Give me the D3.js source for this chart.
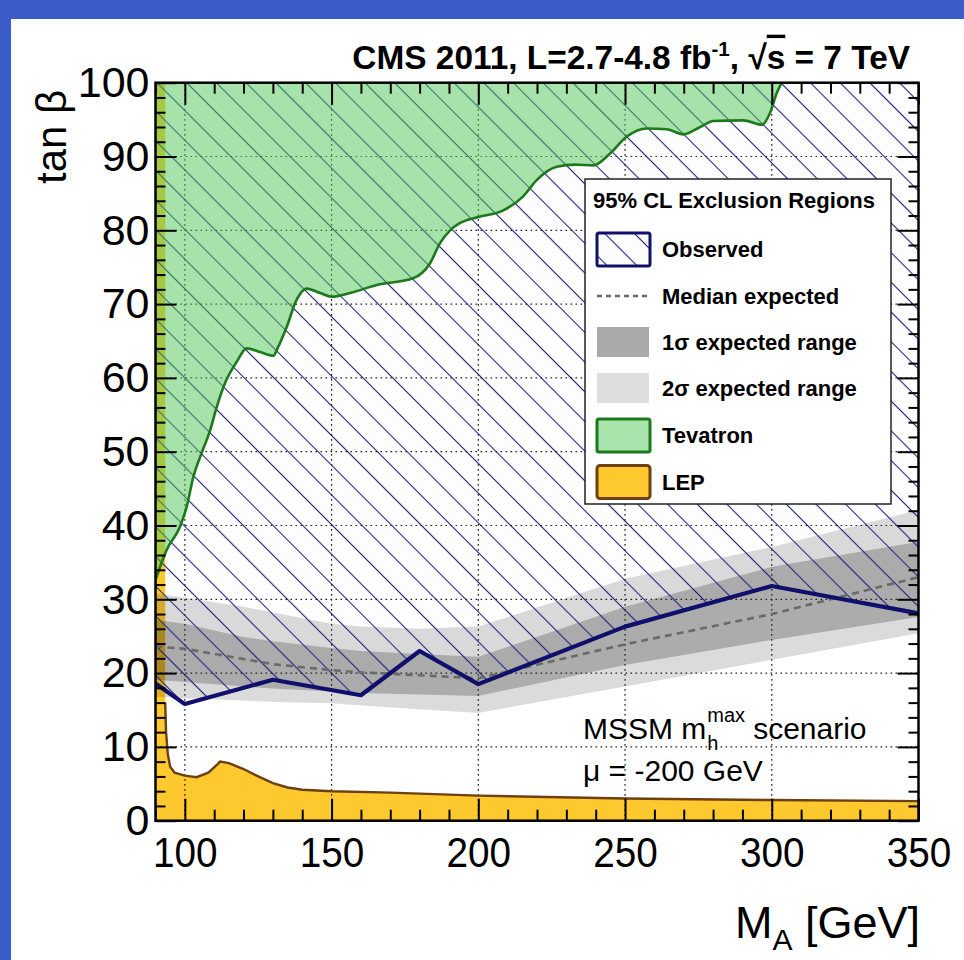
<!DOCTYPE html>
<html>
<head>
<meta charset="utf-8">
<script src="https://cdn.jsdelivr.net/npm/d3@7"></script>
<style>
  body { margin: 0; background: #fff; }
  svg { display: block; }
  text { font-family: "Liberation Sans", Arial, Helvetica, sans-serif; fill: #000; }
</style>
</head>
<body>
<svg id="chart" width="964" height="960"></svg>
<script>
// ---- axis ticks ----
const xMajor = [100, 150, 200, 250, 300, 350];
const xMinor = [90, 110, 120, 130, 140, 160, 170, 180, 190, 210, 220, 230, 240, 260, 270, 280, 290, 310, 320, 330, 340];
const yMajor = [0, 10, 20, 30, 40, 50, 60, 70, 80, 90, 100];
const yMinor = [2, 4, 6, 8, 12, 14, 16, 18, 22, 24, 26, 28, 32, 34, 36, 38, 42, 44, 46, 48,
                52, 54, 56, 58, 62, 64, 66, 68, 72, 74, 76, 78, 82, 84, 86, 88, 92, 94, 96, 98];
const xGrid = [100, 150, 200, 250, 300];
const yGrid = [10, 20, 30, 40, 50, 60, 70, 80, 90];

// ---- observed 95% CL limit ----
const obsMass = [90, 100, 130, 160, 180, 200, 250, 300, 350];
const obsTanb = [18.6, 15.8, 19.1, 17.0, 23.0, 18.5, 26.3, 31.8, 28.1];

// ---- expected limit: median and 1/2 sigma bands ----
const expMass   = [90, 100, 120, 130, 150, 160, 180, 200, 250, 300, 350];
const expMedian = [23.6, 23.3, 21.9, 21.2, 20.4, 20.1, 19.7, 19.3, 23.9, 28.0, 33.0];
const exp1Lo    = [19.1, 18.8, 18.2, 17.9, 17.5, 17.3, 17.1, 16.9, 21.1, 24.5, 27.6];
const exp1Hi    = [27.2, 26.7, 24.9, 24.3, 23.4, 23.0, 22.6, 22.2, 29.0, 34.4, 37.8];
const exp2Lo    = [16.8, 16.6, 16.3, 16.1, 15.9, 15.6, 15.1, 14.6, 18.2, 21.8, 25.4];
const exp2Hi    = [30.8, 30.2, 29.0, 28.2, 26.7, 26.3, 26.0, 26.3, 32.8, 37.1, 42.1];

// ---- Tevatron exclusion boundary ----
const tevMass = [90, 93.8, 98.3, 100.6, 102.9, 105.7, 108.6, 110.9, 113.7, 117.7, 121.1, 125.6,
                 130.1, 131.8, 134.7, 138.1, 141.5, 146.1, 150, 156.3, 165.4, 177.8, 183.5, 187,
                 190.4, 193.8, 200, 208.5, 215.3, 219.9, 226.7, 233, 239.2, 244.9, 250.6, 257.4,
                 264.2, 269.9, 275.6, 280.1, 290.3, 296.6, 299.4, 301.7, 303.4];
const tevTanb = [32.6, 36.7, 39.8, 42.5, 46.6, 49.8, 52.9, 56.1, 59.3, 62.2, 64.0, 63.5,
                 63.0, 64.2, 66.9, 70.6, 72.1, 71.5, 71.0, 71.5, 72.6, 73.5, 75.5, 78.3,
                 80.0, 81.0, 81.8, 82.7, 84.6, 86.8, 88.6, 88.9, 88.8, 90.4, 92.7, 93.8,
                 93.7, 93.0, 94.0, 94.8, 94.9, 94.3, 95.9, 98.6, 100];

// ---- LEP exclusion boundary ----
const lepMass = [90, 93.3, 93.3, 93.6, 94.2, 95, 96.5, 100, 104, 108, 111, 112, 115, 120, 125,
                 130, 135, 140, 150, 170, 200, 250, 300, 350];
const lepTanb = [100, 100, 16, 12, 9, 7.3, 6.5, 6.1, 5.9, 6.5, 7.6, 8.0, 7.8, 7.0, 6.0,
                 5.1, 4.5, 4.2, 4.0, 3.8, 3.4, 3.0, 2.8, 2.65];

// ---- legend entries ----
const legendLabels = ["Observed", "Median expected", "1\u03C3 expected range", "2\u03C3 expected range", "Tevatron", "LEP"];

const W = 964, H = 960;
const svg = d3.select("#chart");

// slide background with blue edge
svg.append("rect").attr("width", W).attr("height", H).attr("fill", "#3b5dca");
svg.append("rect").attr("x", 11).attr("y", 19).attr("width", W - 11).attr("height", H - 19).attr("fill", "#fff");

const x = d3.scaleLinear().domain([90, 350]).range([155.5, 918.5]);
const y = d3.scaleLinear().domain([0, 100]).range([820.7, 82.7]);

const defs = svg.append("defs");
defs.append("clipPath").attr("id", "plotClip")
  .append("rect").attr("x", x(90)).attr("y", y(100))
  .attr("width", x(350) - x(90)).attr("height", y(0) - y(100));

// diagonal hatch for the observed exclusion
const hatch = defs.append("pattern").attr("id", "hatch")
  .attr("patternUnits", "userSpaceOnUse")
  .attr("width", 21).attr("height", 21)
  .attr("patternTransform", "rotate(-45)");
hatch.append("rect").attr("width", 21).attr("height", 21).attr("fill", "rgba(70,70,200,0.012)");
hatch.append("line").attr("x1", 10.5).attr("y1", 0).attr("x2", 10.5).attr("y2", 21)
  .attr("stroke", "#23237e").attr("stroke-width", 1.1);

const plot = svg.append("g").attr("clip-path", "url(#plotClip)");

const zip = (a, b) => a.map((v, i) => [v, b[i]]);

// LEP
const lepPts = zip(lepMass, lepTanb);
plot.append("path").datum(lepPts)
  .attr("d", d3.area().x(d => x(d[0])).y0(y(0)).y1(d => y(d[1])))
  .attr("fill", "#fec92f");

// expected bands
const band = (lo, hi) => d3.area().x((d, i) => x(expMass[i])).y0((d, i) => y(lo[i])).y1((d, i) => y(hi[i]));
plot.append("path").datum(expMass).attr("d", band(exp2Lo, exp2Hi)).attr("fill", "rgba(0,0,0,0.14)");
plot.append("path").datum(expMass).attr("d", band(exp1Lo, exp1Hi)).attr("fill", "rgba(0,0,0,0.21)");

// observed exclusion (hatched)
const obsPts = zip(obsMass, obsTanb);
plot.append("path").datum(obsPts)
  .attr("d", d3.area().x(d => x(d[0])).y0(y(100)).y1(d => y(d[1])))
  .attr("fill", "url(#hatch)");

// grid
const grid = plot.append("g").attr("stroke", "#222").attr("stroke-width", 1.2).attr("stroke-dasharray", "1.6,3.4");
grid.selectAll(".gx").data(xGrid).join("line")
  .attr("x1", d => x(d)).attr("x2", d => x(d)).attr("y1", y(0)).attr("y2", y(100));
grid.selectAll(".gy").data(yGrid).join("line")
  .attr("y1", d => y(d)).attr("y2", d => y(d)).attr("x1", x(90)).attr("x2", x(350));

// Tevatron
const tevPts = zip(tevMass, tevTanb);
plot.append("path").datum(tevPts)
  .attr("d", d3.area().x(d => x(d[0])).y0(y(100)).y1(d => y(d[1])).curve(d3.curveMonotoneX))
  .attr("fill", "rgb(80,200,86)").attr("fill-opacity", 0.5);

// median expected
plot.append("path").datum(zip(expMass, expMedian))
  .attr("d", d3.line().x(d => x(d[0])).y(d => y(d[1])))
  .attr("fill", "none").attr("stroke", "#6a6a6a").attr("stroke-width", 2.6).attr("stroke-dasharray", "7,5");

// observed limit line
plot.append("path").datum(obsPts)
  .attr("d", d3.line().x(d => x(d[0])).y(d => y(d[1])))
  .attr("fill", "none").attr("stroke", "#10106c").attr("stroke-width", 4.2).attr("stroke-linejoin", "round");

// Tevatron boundary
plot.append("path").datum(tevPts)
  .attr("d", d3.line().x(d => x(d[0])).y(d => y(d[1])).curve(d3.curveMonotoneX))
  .attr("fill", "none").attr("stroke", "#1c7a1c").attr("stroke-width", 2.6);

// LEP boundary (lower edge)
plot.append("path").datum(lepPts.slice(2))
  .attr("d", d3.line().x(d => x(d[0])).y(d => y(d[1])))
  .attr("fill", "none").attr("stroke", "#6e3f10").attr("stroke-width", 2.4);

// ---- axes ----
function styleAxis(g) {
  g.select(".domain").remove();
  g.selectAll(".tick line").attr("stroke", "#000").attr("stroke-width", 2);
}
svg.append("g").attr("transform", `translate(0,${y(0)})`)
  .call(d3.axisBottom(x).tickValues(xMajor).tickSizeInner(-22).tickSizeOuter(0).tickPadding(16))
  .call(styleAxis)
  .call(g => g.selectAll("text")
    .attr("font-size", 43).attr("font-family", "Liberation Sans, Arial, sans-serif").attr("fill", "#000")
    .attr("transform", "scale(0.9,1)"));
svg.append("g").attr("transform", `translate(0,${y(0)})`)
  .call(d3.axisBottom(x).tickValues(xMinor).tickSize(-11).tickFormat(""))
  .call(styleAxis);
svg.append("g").attr("transform", `translate(0,${y(100)})`)
  .call(d3.axisTop(x).tickValues(xMajor).tickSize(-22).tickFormat(""))
  .call(styleAxis);
svg.append("g").attr("transform", `translate(0,${y(100)})`)
  .call(d3.axisTop(x).tickValues(xMinor).tickSize(-11).tickFormat(""))
  .call(styleAxis);
svg.append("g").attr("transform", `translate(${x(90)},0)`)
  .call(d3.axisLeft(y).tickValues(yMajor).tickSizeInner(-21).tickSizeOuter(0).tickPadding(6))
  .call(styleAxis)
  .call(g => g.selectAll("text").attr("font-size", 43).attr("font-family", "Liberation Sans, Arial, sans-serif").attr("fill", "#000"));
svg.append("g").attr("transform", `translate(${x(90)},0)`)
  .call(d3.axisLeft(y).tickValues(yMinor).tickSize(-10).tickFormat(""))
  .call(styleAxis);
svg.append("g").attr("transform", `translate(${x(350)},0)`)
  .call(d3.axisRight(y).tickValues(yMajor).tickSize(-21).tickFormat(""))
  .call(styleAxis);
svg.append("g").attr("transform", `translate(${x(350)},0)`)
  .call(d3.axisRight(y).tickValues(yMinor).tickSize(-10).tickFormat(""))
  .call(styleAxis);

// frame
svg.append("rect").attr("x", x(90)).attr("y", y(100))
  .attr("width", x(350) - x(90)).attr("height", y(0) - y(100))
  .attr("fill", "none").attr("stroke", "#000").attr("stroke-width", 2.5);

// ---- legend ----
const lg = svg.append("g");
lg.append("rect").attr("x", 585).attr("y", 179).attr("width", 306).attr("height", 325)
  .attr("fill", "#fff").attr("stroke", "#222").attr("stroke-width", 1.5);
lg.append("text").attr("x", 593).attr("y", 208).attr("font-size", 22).attr("font-weight", "bold")
  .text("95% CL Exclusion Regions");

const rowY = [249, 296, 342, 388, 435, 481.5];
lg.selectAll(".lab").data(legendLabels).join("text")
  .attr("x", 662).attr("y", (d, i) => rowY[i] + 8)
  .attr("font-size", 22).attr("font-weight", "bold").text(d => d);

// symbols
lg.append("rect").attr("x", 597).attr("y", rowY[0] - 16).attr("width", 53).attr("height", 33)
  .attr("fill", "#fff").attr("stroke", "none");
lg.append("rect").attr("x", 597).attr("y", rowY[0] - 16).attr("width", 53).attr("height", 33)
  .attr("fill", "url(#hatch)").attr("stroke", "#10106c").attr("stroke-width", 3).attr("rx", 2);
lg.append("line").attr("x1", 597).attr("x2", 650).attr("y1", rowY[1]).attr("y2", rowY[1])
  .attr("stroke", "#6a6a6a").attr("stroke-width", 2.4).attr("stroke-dasharray", "5,4");
lg.append("rect").attr("x", 597).attr("y", rowY[2] - 15).attr("width", 52).attr("height", 30)
  .attr("fill", "#a9a9a9");
lg.append("rect").attr("x", 597).attr("y", rowY[3] - 15).attr("width", 52).attr("height", 30)
  .attr("fill", "#dddddd");
lg.append("rect").attr("x", 597).attr("y", rowY[4] - 16).attr("width", 53).attr("height", 33)
  .attr("fill", "#a8e4ab").attr("stroke", "#1c7a1c").attr("stroke-width", 3).attr("rx", 2);
lg.append("rect").attr("x", 597).attr("y", rowY[5] - 16).attr("width", 53).attr("height", 33)
  .attr("fill", "#fec92f").attr("stroke", "#6e3f10").attr("stroke-width", 3).attr("rx", 3);

// ---- titles ----
const title = svg.append("text").attr("x", 910).attr("y", 69).attr("text-anchor", "end")
  .attr("font-size", 34).attr("font-weight", "bold");
title.append("tspan").text("CMS 2011, L=2.7-4.8 fb");
title.append("tspan").attr("font-size", 21).attr("dy", -13).text("-1");
title.append("tspan").attr("dy", 13).text(", \u221A");
title.append("tspan").style("text-decoration", "overline").text("s");
title.append("tspan").text(" = 7 TeV");
{
  const w = title.node().getComputedTextLength();
  const s = 558 / w;
  title.attr("transform", `translate(910,0) scale(${s},1) translate(-910,0)`);
}

// y axis title
svg.append("text").attr("transform", "translate(66,184) rotate(-90)")
  .attr("font-size", 42).text("tan \u03B2");

// x axis title
const xt = svg.append("text").attr("x", 920).attr("y", 938).attr("text-anchor", "end").attr("font-size", 45);
xt.append("tspan").text("M");
xt.append("tspan").attr("font-size", 30).attr("dy", 12).text("A");
xt.append("tspan").attr("dy", -12).text(" [GeV]");

// scenario note
const nx = 583;
const n1 = svg.append("text").attr("x", nx).attr("y", 739).attr("font-size", 30).text("MSSM m");
const w1 = n1.node().getComputedTextLength();
svg.append("text").attr("x", nx + w1 + 1).attr("y", 750).attr("font-size", 20).text("h");
const sup = svg.append("text").attr("x", nx + w1 + 1).attr("y", 722).attr("font-size", 20).text("max");
const w2 = sup.node().getComputedTextLength();
svg.append("text").attr("x", nx + w1 + w2 + 9).attr("y", 739).attr("font-size", 30).text("scenario");
svg.append("text").attr("x", nx).attr("y", 781).attr("font-size", 30).text("\u03BC = -200 GeV");
</script>
</body>
</html>
